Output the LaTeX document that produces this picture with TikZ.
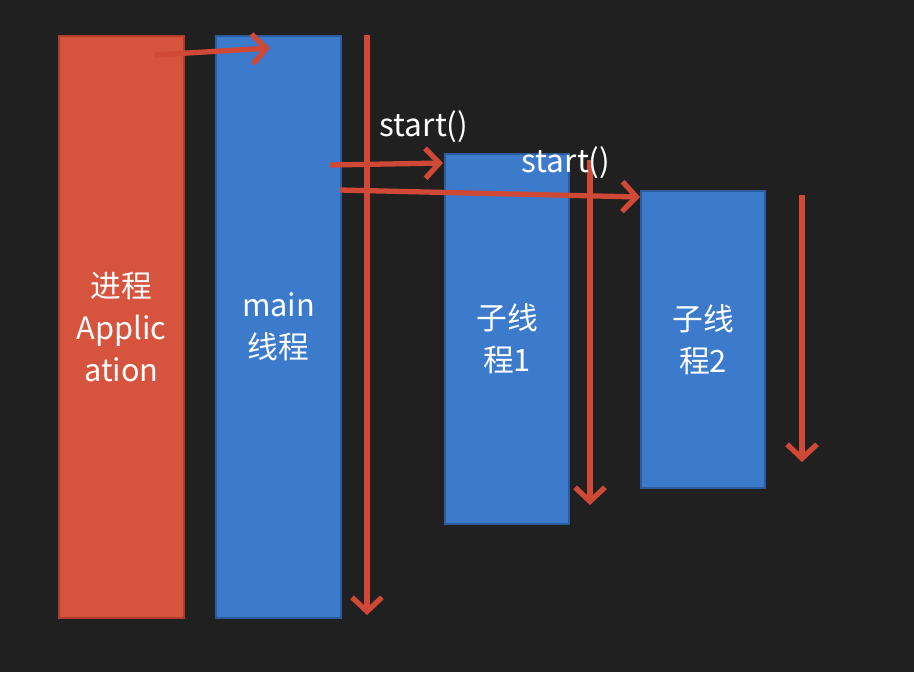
\documentclass[tikz,border=0pt]{standalone}
\usepackage{fontspec}
\setmainfont{Noto Sans CJK SC}
\usetikzlibrary{arrows.meta,positioning,calc}
\definecolor{boardcolor}{RGB}{32,32,32}
\definecolor{appcolor}{RGB}{214,84,62}
\definecolor{appedge}{RGB}{176,60,44}
\definecolor{threadcolor}{RGB}{60,123,203}
\definecolor{threadedge}{RGB}{44,92,158}
\definecolor{flowcolor}{RGB}{208,72,54}

\begin{document}
\begin{tikzpicture}[x=1cm,y=1cm,
    box/.style={draw, line width=1.2pt, anchor=north west, inner sep=0pt,
      text=white, align=center, font=\fontsize{17.5}{24}\selectfont},
    appbox/.style={box, fill=appcolor, draw=appedge},
    threadbox/.style={box, fill=threadcolor, draw=threadedge},
    flow/.style={flowcolor, line width=3pt, line join=round,
      -{Straight Barb[length=8pt,width=17pt,line width=3pt]}},
    call/.style={text=white, font=\fontsize{18}{20}\selectfont, inner sep=0pt}]
    % board
    \fill[boardcolor] (0,0) rectangle (18.28,-13.44);
    \useasboundingbox (0,0) rectangle (18.28,-13.44);
    % process and threads
    \node[appbox, minimum width=2.5cm, minimum height=11.64cm] (app) at (1.16,-0.70) {进程\\Applic\\ation};
    \node[threadbox, minimum width=2.5cm, minimum height=11.64cm] (main) at (4.30,-0.70) {main\\线程};
    \node[threadbox, minimum width=2.48cm, minimum height=7.40cm] (sub1) at (8.88,-3.06) {子线\\程1};
    \node[threadbox, minimum width=2.48cm, minimum height=5.94cm] (sub2) at (12.80,-3.80) {子线\\程2};
    % free ends
    \coordinate (appOut) at (3.10,-1.10);
    \coordinate (mainIn) at (5.40,-0.96);
    \coordinate (mainTop) at (7.34,-0.70);
    \coordinate (mainEnd) at (7.34,-12.30);
    \coordinate (callA) at (6.60,-3.30);
    \coordinate (callB) at (6.80,-3.80);
    \coordinate (subTopA) at (11.80,-3.20);
    \coordinate (subEndA) at (11.80,-10.10);
    \coordinate (subTopB) at (16.04,-3.90);
    \coordinate (subEndB) at (16.04,-9.24);
    % flows
    \draw[flow] (appOut) -- (mainIn);
    \draw[flow] (mainTop) -- (mainEnd);
    \draw[flow] (callA) -- ($(sub1.north west)+(-0.02,-0.20)$);
    \draw[flow] (callB) -- ($(sub2.north west)+(0,-0.14)$);
    \draw[flow] (subTopA) -- (subEndA);
    \draw[flow] (subTopB) -- (subEndB);
    \node[call] (startA) at (8.48,-2.54) {start()};
    \node[call] (startB) at (11.32,-3.26) {start()};
\end{tikzpicture}
\end{document}
